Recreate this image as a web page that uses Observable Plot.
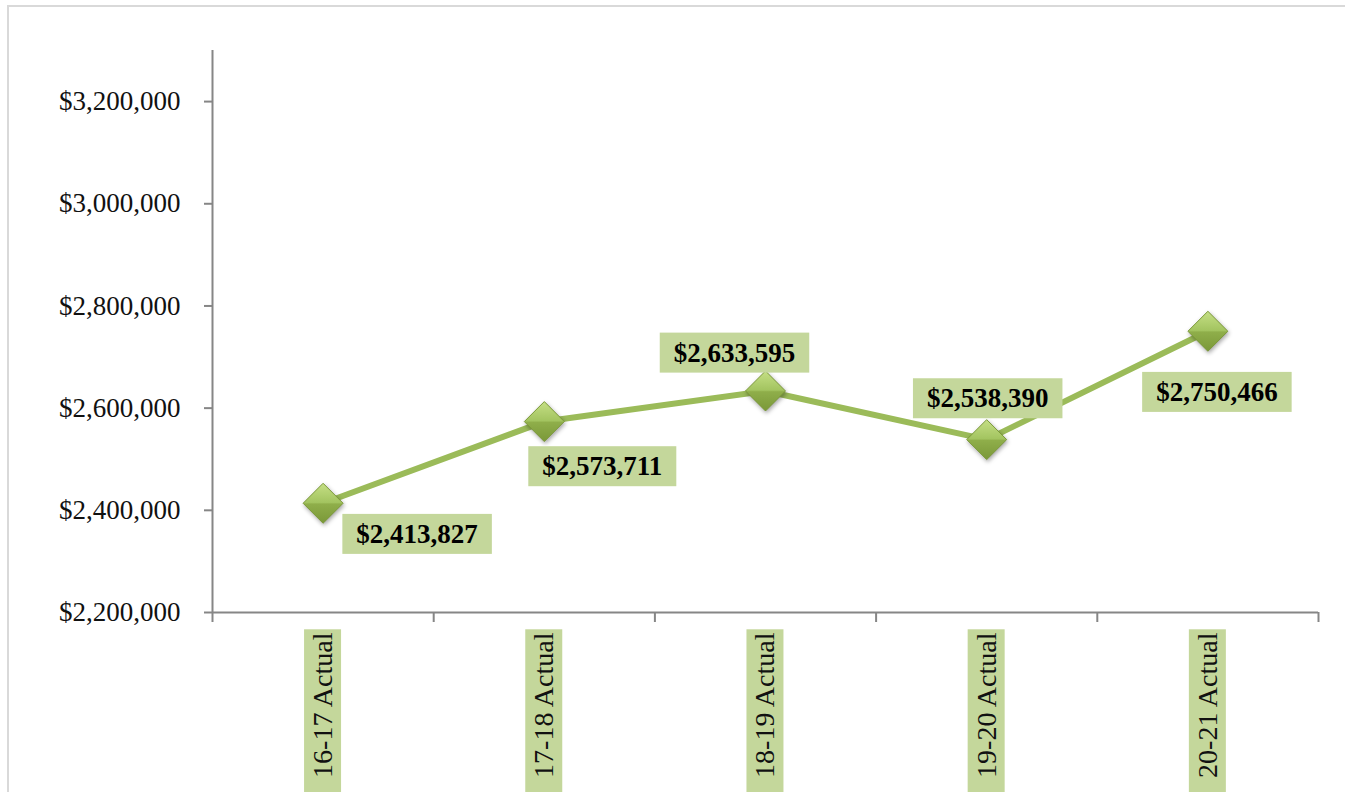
<!DOCTYPE html>
<html>
<head>
<meta charset="utf-8">
<script src="https://cdn.jsdelivr.net/npm/d3@7"></script>
<script src="https://cdn.jsdelivr.net/npm/@observablehq/plot@0.6"></script>
<style>
  html, body { margin: 0; padding: 0; background: #fff; }
  body { position: relative; width: 1345px; height: 792px; overflow: hidden; }
  #frame { position: absolute; left: 7px; top: 5px; width: 1400px; height: 900px;
           border-left: 2px solid #d9d9d9; border-top: 2px solid #d9d9d9; }
  #chart { position: absolute; left: 0; top: 0; }
  #chart g[aria-label="dot"] path { filter: drop-shadow(1px 2px 2px rgba(0,0,0,0.35)); }
</style>
</head>
<body>
<div id="frame"></div>
<div id="chart"></div>
<script>
// ---- data ----
const categories = ["16-17 Actual", "17-18 Actual", "18-19 Actual", "19-20 Actual", "20-21 Actual"];
const values = [2413827, 2573711, 2633595, 2538390, 2750466];
const yTicks = [2200000, 2400000, 2600000, 2800000, 3000000, 3200000];
const yDomain = [2200000, 3300000];

// ---- layout / style (label offsets in px) ----
const labelOffsets = [[94, 31], [58, 45], [-31, -38], [1, -41], [9, 61]];
const green = "#9bbb59";
const boxFill = "#c4d79b";
const axisGray = "#868686";

const data = categories.map((c, i) => ({cat: c, pos: i + 0.5, value: values[i]}));
const fmt = d3.format("$,");

const defsMark = () => {
  const defs = d3.create("svg:defs");
  const g = defs.append("linearGradient").attr("id", "dgrad")
    .attr("x1", 0).attr("y1", 0).attr("x2", 0).attr("y2", 1);
  g.append("stop").attr("offset", "0%").attr("stop-color", "#c5df85");
  g.append("stop").attr("offset", "48%").attr("stop-color", "#a3c460");
  g.append("stop").attr("offset", "52%").attr("stop-color", "#8fae4a");
  g.append("stop").attr("offset", "100%").attr("stop-color", "#7a9838");
  return defs.node();
};

const valueLabels = data.map((d, i) => Plot.text([d], {
  x: "pos", y: "value", text: (d) => fmt(d.value),
  dx: labelOffsets[i][0], dy: labelOffsets[i][1],
  fontSize: 27, fontWeight: "bold", fill: "#000"
}));

const plot = Plot.plot({
  width: 1345,
  height: 792,
  marginLeft: 212,
  marginRight: 27,
  marginTop: 50,
  marginBottom: 180,
  style: {fontFamily: "'Liberation Serif', 'Times New Roman', serif", color: "#111", background: "transparent"},
  x: {type: "linear", domain: [0, categories.length]},
  y: {domain: yDomain},
  marks: [
    defsMark,
    Plot.axisY({ticks: yTicks, tickFormat: fmt, tickSize: 8, tickPadding: 24, fontSize: 27,
                stroke: axisGray, strokeWidth: 2, label: null}),
    Plot.axisX({ticks: d3.range(categories.length + 1), tickFormat: () => "", tickSize: 10,
                stroke: axisGray, strokeWidth: 2, label: null}),
    Plot.ruleX([0], {y1: yDomain[0], y2: yDomain[1], stroke: axisGray, strokeWidth: 2}),
    Plot.ruleY([yDomain[0]], {x1: 0, x2: categories.length, stroke: axisGray, strokeWidth: 2}),
    Plot.line(data, {x: "pos", y: "value", stroke: green, strokeWidth: 6}),
    Plot.dot(data, {x: "pos", y: "value", symbol: "diamond2", r: 18, fill: "url(#dgrad)",
                    stroke: "#7a9838", strokeWidth: 1}),
    ...valueLabels,
    Plot.text(data, {x: "pos", y: () => yDomain[0], text: "cat", rotate: -90, textAnchor: "end",
                     dy: 20, fontSize: 28, fill: "#111"})
  ]
});

document.getElementById("chart").append(plot);

// green label boxes behind every text mark
const ns = "http://www.w3.org/2000/svg";
plot.querySelectorAll('g[aria-label="text"]').forEach((g) => {
  g.querySelectorAll("text").forEach((t) => {
    const b = t.getBBox();
    const rotated = (t.getAttribute("transform") || "").includes("rotate");
    const px = rotated ? 3 : 14, py = rotated ? 3 : 5;
    const extra = rotated ? 30 : 0; // extend the box downward (toward text start)
    const r = document.createElementNS(ns, "rect");
    r.setAttribute("x", b.x - px - extra);
    r.setAttribute("y", b.y - py);
    r.setAttribute("width", b.width + 2 * px + extra);
    r.setAttribute("height", b.height + 2 * py);
    r.setAttribute("fill", boxFill);
    if (t.getAttribute("transform")) r.setAttribute("transform", t.getAttribute("transform"));
    t.parentNode.insertBefore(r, t);
  });
});
</script>
</body>
</html>
